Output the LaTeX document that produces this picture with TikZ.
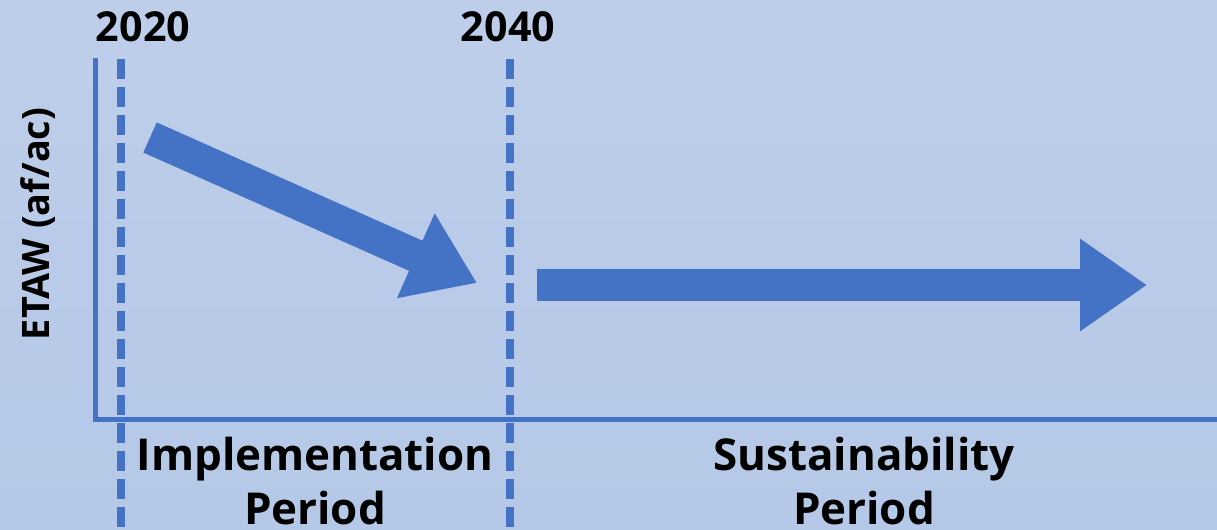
\documentclass[tikz,border=0pt]{standalone}
\usepackage{fontspec}
\setmainfont{Open Sans}
\usetikzlibrary{arrows.meta}
\definecolor{mblue}{RGB}{68,114,196}
\definecolor{bgtop}{RGB}{190,206,234}
\definecolor{bgbot}{RGB}{181,200,231}

\begin{document}
\begin{tikzpicture}[x=0.02cm, y=-0.02cm,
    year/.style={font=\fontsize{23.5}{28}\selectfont\bfseries},
    period/.style={font=\fontsize{25}{30.7}\selectfont\bfseries, align=center},
    axisline/.style={mblue, line width=0.1cm},
    marker/.style={mblue, line width=0.15cm, dash pattern=on 0.4cm off 0.16cm},
    bigarrow/.style={mblue, line width=0.66cm, -{Triangle[width=1.76cm,length=1.34cm]}}]
  % background
  \shade[top color=bgtop, bottom color=bgbot] (0,0) rectangle (1217,530);
  \useasboundingbox (0,0) rectangle (1217,530);

  % axes
  \draw[axisline] (95,58) -- (95,419) -- (1217,419);

  % years
  \draw[marker] (121,59) -- (121,530);
  \draw[marker] (510,59) -- (510,530);
  \node [year] (y2020) at (143,27) {2020};
  \node [year] (y2040) at (508,27) {2040};

  \node [year, font=\fontsize{21.5}{26}\selectfont\bfseries, rotate=90] (etaw) at (38,224) {ETAW (af/ac)};

  % trends
  \coordinate (dstart) at (150,137.5);
  \coordinate (dend) at (477,283);
  \coordinate (hstart) at (537,285);
  \coordinate (hend) at (1147,285);
  \draw[bigarrow] (dstart) -- (dend);
  \draw[bigarrow] (hstart) -- (hend);

  % periods
  \node [period] (impl) at (315,481) {Implementation\\Period};
  \node [period] (sust) at (864,481) {Sustainability\\Period};
\end{tikzpicture}
\end{document}
